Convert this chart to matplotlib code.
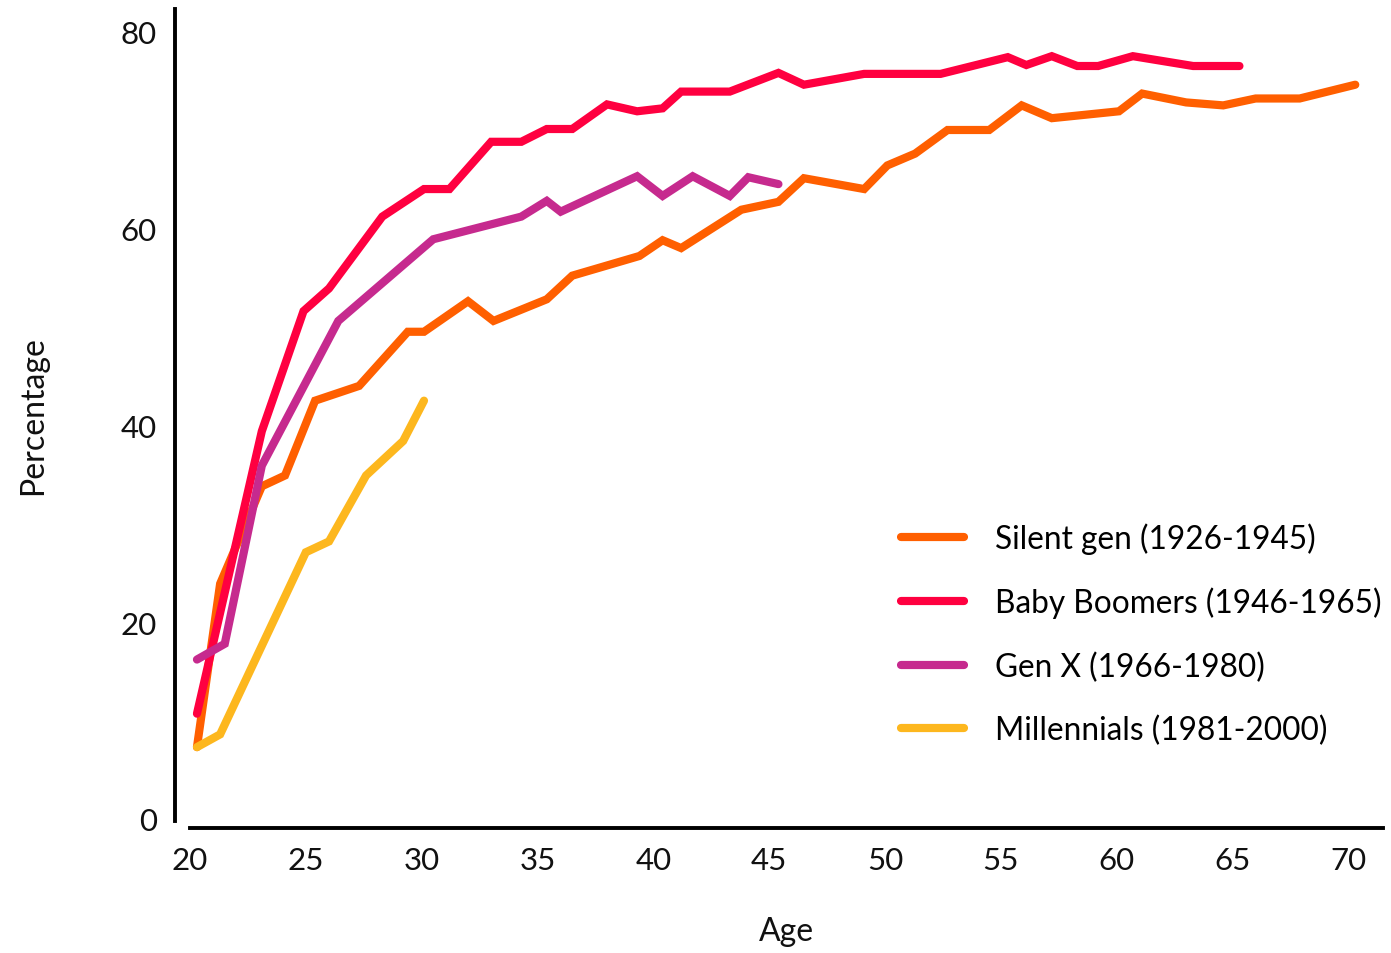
import matplotlib
matplotlib.use('Agg')
import matplotlib.pyplot as plt
from matplotlib.ticker import FixedLocator

plt.rcParams['font.family'] = ['Lato', 'DejaVu Sans']

# share of each generation by age
silent_age = [20.3, 21.3, 23.1, 24.1, 25.4, 27.3, 29.4, 30.1, 32.0, 33.1, 35.4, 36.5,
              39.4, 40.4, 41.2, 43.8, 45.4, 46.5, 49.1, 50.1, 51.3, 52.7, 54.5, 55.9,
              57.2, 60.1, 61.1, 63.0, 64.6, 66.0, 67.9, 70.3]
silent_pct = [7.3, 23.9, 33.8, 34.9, 42.5, 44.0, 49.5, 49.5, 52.6, 50.6, 52.8, 55.2,
              57.2, 58.8, 58.0, 61.9, 62.7, 65.1, 64.0, 66.4, 67.6, 70.0, 70.0, 72.5,
              71.2, 71.9, 73.7, 72.8, 72.5, 73.2, 73.2, 74.6]

boomer_age = [20.3, 23.1, 24.9, 26.0, 28.3, 30.1, 31.2, 33.0, 34.3, 35.4, 36.5, 38.0,
              39.3, 40.4, 41.2, 43.3, 45.4, 46.5, 49.1, 52.4, 55.3, 56.1, 57.2, 58.3,
              59.2, 60.7, 63.3, 65.3]
boomer_pct = [10.7, 39.4, 51.6, 53.9, 61.2, 64.0, 64.0, 68.8, 68.8, 70.1, 70.1, 72.6,
              71.9, 72.2, 73.9, 73.9, 75.8, 74.6, 75.7, 75.7, 77.4, 76.6, 77.5, 76.5,
              76.5, 77.5, 76.5, 76.5]

genx_age = [20.3, 21.5, 23.1, 26.4, 30.5, 34.3, 35.4, 36.0, 39.3, 40.4, 41.7, 43.3, 44.1, 45.4]
genx_pct = [16.2, 17.8, 35.9, 50.6, 58.9, 61.2, 62.8, 61.7, 65.3, 63.3, 65.3, 63.3, 65.2, 64.5]

mill_age = [20.3, 21.3, 25.0, 26.0, 27.6, 29.2, 30.1]
mill_pct = [7.3, 8.6, 27.1, 28.2, 34.9, 38.4, 42.5]

labels = ['Silent gen (1926-1945)', 'Baby Boomers (1946-1965)',
          'Gen X (1966-1980)', 'Millennials (1981-2000)']
colors = ['#FF5F00', '#FF0040', '#C62A8E', '#FDB71E']

fig = plt.figure(figsize=(13.91, 9.54), dpi=100)
ax = fig.add_axes([0.1366, 0.1384, 0.8577, 0.8512])

series = [(silent_age, silent_pct), (boomer_age, boomer_pct),
          (genx_age, genx_pct), (mill_age, mill_pct)]
for (x, y), lab, c in zip(series, labels, colors):
    ax.plot(x, y, color=c, lw=5.9, label=lab,
            solid_capstyle='round', solid_joinstyle='miter')

ax.set_xlim(20, 71.5)
ax.set_ylim(-0.2, 82.3)
ax.set_xticks([20, 25, 30, 35, 40, 45, 50, 55, 60, 65, 70])
ax.set_yticks([0, 20, 40, 60, 80])

for s in ['top', 'right']:
    ax.spines[s].set_visible(False)
ax.spines['left'].set_position(('outward', 11))
ax.spines['bottom'].set_position(('outward', 5))
ax.spines['left'].set_linewidth(2.8)
ax.spines['bottom'].set_linewidth(2.8)

ax.tick_params(axis='both', length=0, labelsize=22.5, colors='#111111')
ax.tick_params(axis='y', pad=13)
ax.tick_params(axis='x', pad=13)
ax.yaxis.set_minor_locator(FixedLocator([0]))
ax.tick_params(axis='y', which='minor', length=3, width=2.8)

ax.set_xlabel('Age', fontsize=23, labelpad=30, color='#111111')
ax.set_ylabel('Percentage', fontsize=23, labelpad=52, color='#111111')

ax.legend(loc='upper left', bbox_to_anchor=(0.596, 0.368), frameon=False,
          fontsize=22.8, handlelength=2.0, handletextpad=0.97,
          labelspacing=1.04, borderpad=0, borderaxespad=0)

fig.savefig('out.png', dpi=100)
